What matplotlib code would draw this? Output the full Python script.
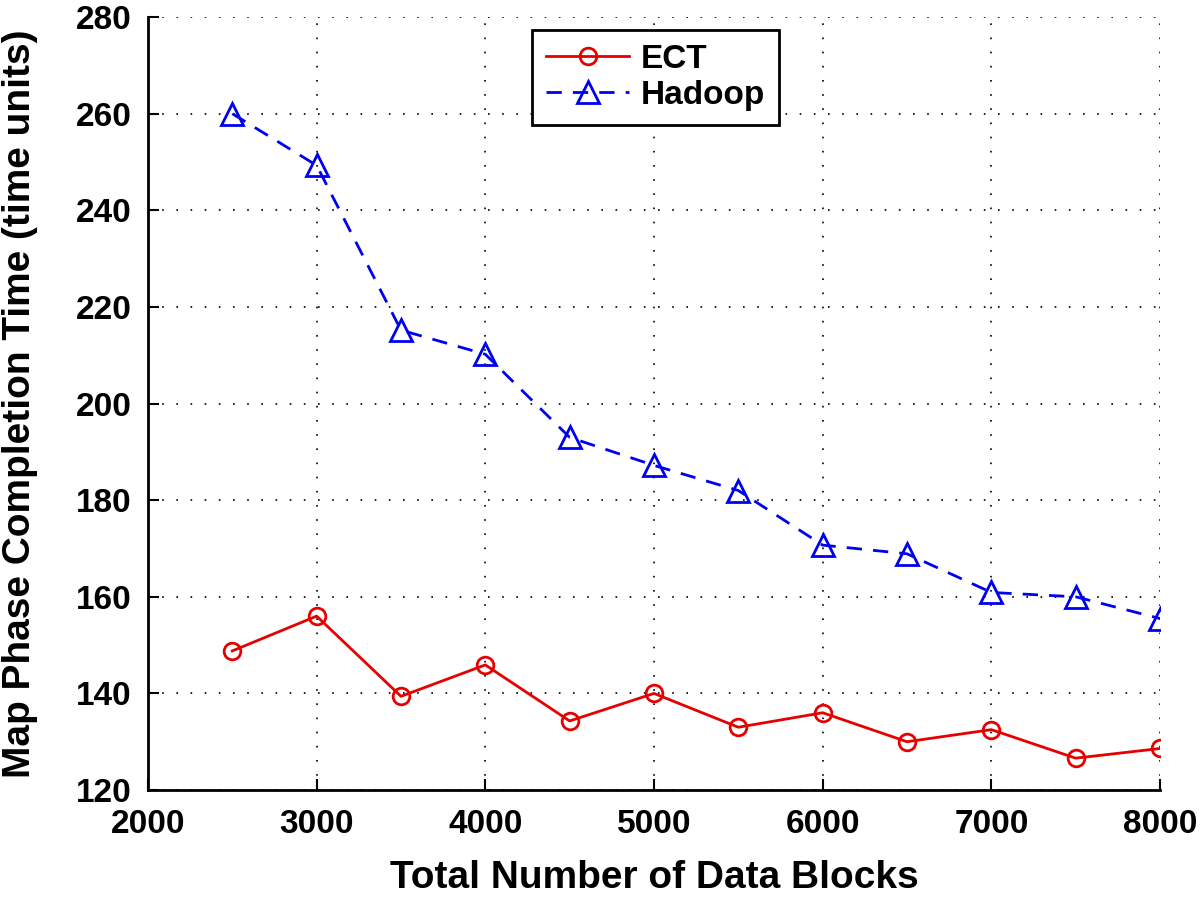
import matplotlib.pyplot as plt

plt.rc('font', family='Liberation Sans', weight='bold', size=24)

blocks = [2500, 3000, 3500, 4000, 4500, 5000, 5500, 6000, 6500, 7000, 7500, 8000]
ect = [148.8, 156.0, 139.4, 145.9, 134.3, 140.0, 133.0, 136.0, 130.0, 132.5, 126.6, 128.6]
hadoop = [260.0, 249.3, 215.2, 210.2, 193.0, 187.2, 182.0, 170.7, 168.9, 160.9, 160.0, 155.5]

xticks = [2000, 3000, 4000, 5000, 6000, 7000, 8000]
yticks = [120, 140, 160, 180, 200, 220, 240, 260, 280]


def do_plot():
    f = plt.figure(figsize=(12, 8.99), dpi=100)
    ax = f.add_axes([0.1233, 0.1212, 0.8434, 0.8598])
    ax.plot(blocks, ect, '-o', color='#e60000', label='ECT', lw=2,
            markersize=12, markerfacecolor='none', markeredgewidth=2)
    ax.plot(blocks, hadoop, '--^', color='#0000f0', label='Hadoop', lw=2,
            markersize=16, markerfacecolor='none', markeredgewidth=2,
            dashes=(5.5, 4))
    ax.set_xlim(2000, 8000)
    ax.set_ylim(120, 280)
    ax.set_xticks(xticks)
    ax.set_yticks(yticks)
    ax.grid(True, linestyle=(0, (1, 7.5)), color='black', lw=1.2)
    for s in ['top', 'right']:
        ax.spines[s].set_visible(False)
    ax.spines['left'].set_linewidth(2)
    ax.spines['bottom'].set_linewidth(2)
    ax.tick_params(direction='in', length=8, width=1.5, labelsize=24)
    ax.tick_params(axis='x', pad=14)
    ax.tick_params(axis='y', pad=12)
    ax.set_xlabel('Total Number of Data Blocks', fontsize=28, fontweight='bold')
    ax.set_ylabel('Map Phase Completion Time (time units)', fontsize=28, fontweight='bold')
    ax.xaxis.set_label_coords(0.5, -0.09)
    ax.yaxis.set_label_coords(-0.109, 0.5)
    leg = ax.legend(loc='upper left', bbox_to_anchor=(0.4433, 0.9666),
                    bbox_transform=f.transFigure, borderaxespad=0, fancybox=False,
                    framealpha=1, edgecolor='black', fontsize=24, handlelength=2.5,
                    borderpad=0.42, labelspacing=0.15, handletextpad=0.35)
    leg.get_frame().set_linewidth(2)
    plt.savefig('out.png', dpi=100)


if __name__ == '__main__':
    do_plot()
